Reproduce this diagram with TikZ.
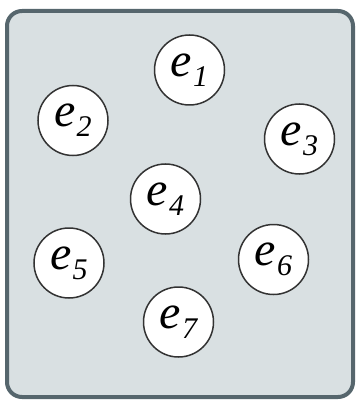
\documentclass[tikz,border=0pt]{standalone}
\usepackage{fontspec}
\newfontfamily\tms{Liberation Serif}
\definecolor{framec}{HTML}{56666D}
\definecolor{fillc}{HTML}{D9E0E2}
\definecolor{circc}{HTML}{333333}
\newcommand{\elab}[1]{{\tms\itshape\fontsize{48}{48}\selectfont e}\kern1pt\raisebox{-10pt}{\tms\itshape\fontsize{30}{30}\selectfont #1}}
\begin{document}
\begin{tikzpicture}[x=1pt,y=-1pt,
  elem/.style={circle,draw=circc,line width=1.5pt,fill=white,minimum size=70pt,inner sep=0pt}]
\useasboundingbox (0,0) rectangle (359,403);
\draw[framec,line width=4pt,fill=fillc,rounded corners=15pt] (7,11) rectangle (353,397);
\node[elem] (e1) at (189.5,70) {\elab{1}};
\node[elem] (e2) at (73,120.5) {\elab{2}};
\node[elem] (e3) at (299.5,139) {\elab{3}};
\node[elem] (e4) at (165.5,199) {\elab{4}};
\node[elem] (e5) at (69,263) {\elab{5}};
\node[elem] (e6) at (273.5,259.5) {\elab{6}};
\node[elem] (e7) at (178.5,322) {\elab{7}};
\end{tikzpicture}
\end{document}
